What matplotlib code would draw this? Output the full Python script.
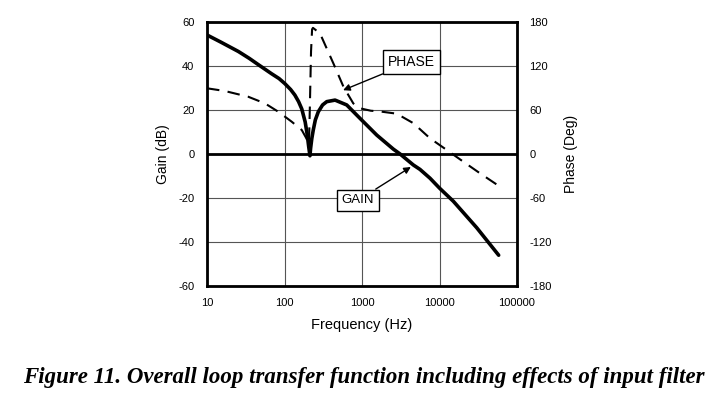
import matplotlib
matplotlib.use("Agg")
import matplotlib.pyplot as plt

# Gain curve (Hz, dB)
gain_freq = [10, 15, 25.4, 35, 46, 68, 85, 101, 120, 136, 152, 167, 185, 196, 205, 210, 213,
             217, 225, 235, 250, 273, 310, 351, 449, 635, 942, 1550, 2540, 3100, 4600, 5600,
             7540, 10000, 15100, 30200, 58000]
gain_db = [54.1, 50.9, 46.6, 43.5, 40.6, 36.5, 34.3, 32.0, 29.3, 26.8, 23.8, 20.5, 14.5, 9, 3.5,
           0.8, -0.8, 2.5, 7, 10.9, 15.5, 19.2, 22.3, 23.8, 24.5, 22.3, 16.2, 8.6, 2.2, 0, -5,
           -7, -11, -15.5, -21.5, -33.5, -46]

# Phase curve (Hz, deg)
phase_freq = [10, 17, 34, 56, 83, 124, 167, 190, 207, 212, 220, 227, 233, 287, 427, 576,
              772, 942, 1300, 1706, 2800, 4600, 7540, 12400, 20300, 33400, 56000]
phase_deg = [89.6, 85.9, 78.1, 69, 57.7, 44, 32.7, 22, 14, 60, 140, 170, 172, 164.5, 123.6, 91.8,
             69, 62.3, 59, 58, 55, 42, 21.4, 5.5, -10.5, -26.4, -42.3]

x_ticks = [10, 100, 1000, 10000, 100000]
x_ticklabels = ["10", "100", "1000", "10000", "100000"]
gain_ticks = [-60, -40, -20, 0, 20, 40, 60]
phase_ticks = [-180, -120, -60, 0, 60, 120, 180]

plt.rcParams['font.family'] = ['Liberation Sans', 'DejaVu Sans']

fig = plt.figure(figsize=(7.17, 3.94), dpi=100)
W, H = 717, 394
L, R, T, B = 207, 517, 22, 286
ax = fig.add_axes([L / W, 1 - B / H, (R - L) / W, (B - T) / H])
ax.set_xscale('log')
ax.set_xlim(10, 100000)
ax.set_ylim(-60, 60)
ax.set_xticks(x_ticks)
ax.set_xticklabels(x_ticklabels)
ax.minorticks_off()
ax.set_yticks(gain_ticks)
ax.set_yticklabels([str(v) for v in gain_ticks])
ax.grid(True, color='#555555', linewidth=0.8)
ax.axhline(0, color='black', linewidth=2.0)
ax.tick_params(length=0, labelsize=8, pad=9)
for s in ax.spines.values():
    s.set_linewidth(2.0)

ax.plot(gain_freq, gain_db, color='black', linewidth=2.6,
        solid_capstyle='round', solid_joinstyle='round', zorder=5)

ax2 = ax.twinx()
ax2.set_ylim(-180, 180)
ax2.set_yticks(phase_ticks)
ax2.set_yticklabels([str(v) for v in phase_ticks])
ax2.tick_params(length=0, labelsize=8, pad=9)
ax2.plot(phase_freq, phase_deg, color='black', linewidth=1.5,
         linestyle=(0, (6, 4)), dash_joinstyle='round', zorder=5)

ax.set_xlabel("Frequency (Hz)", fontsize=10.5, labelpad=7)
ax.set_ylabel("Gain (dB)", fontsize=10, labelpad=6)
ax2.set_ylabel("Phase (Deg)", fontsize=10, labelpad=9)

box = dict(boxstyle='square,pad=0.35', facecolor='white', edgecolor='black', linewidth=1.0)
ax.annotate("PHASE", xy=(570, 29), xytext=(4350, 41.8), fontsize=10,
            ha='center', va='center', bbox=box, zorder=10,
            arrowprops=dict(arrowstyle='-|>', color='black', lw=1.0,
                            shrinkA=0, shrinkB=0, mutation_scale=10))
ax.annotate("GAIN", xy=(4270, -5.9), xytext=(890, -21), fontsize=9.5,
            ha='center', va='center', bbox=box, zorder=10,
            arrowprops=dict(arrowstyle='-|>', color='black', lw=1.0,
                            shrinkA=0, shrinkB=0, mutation_scale=10))

fig.text(364 / W, 1 - 378 / H, "Figure 11. Overall loop transfer function including effects of input filter",
         family='Liberation Serif', weight='bold', style='italic', fontsize=16.5,
         ha='center', va='center')

fig.savefig("out.png", dpi=100)
